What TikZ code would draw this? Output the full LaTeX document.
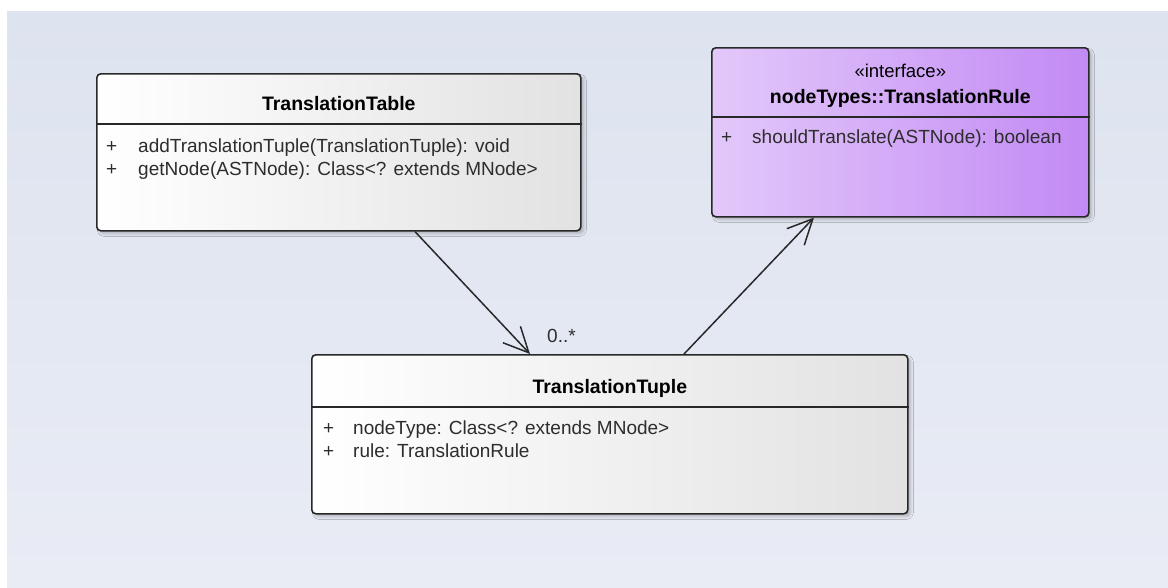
\documentclass[tikz,border=0pt]{standalone}
\usepackage{fontspec}
\setmainfont{Liberation Sans}
\usetikzlibrary{arrows.meta,shadows.blur,calc}

\definecolor{bgtop}{RGB}{221,227,239}
\definecolor{bgbot}{RGB}{233,236,245}
\definecolor{boxgray}{RGB}{226,226,226}
\definecolor{ruleleft}{RGB}{227,200,250}
\definecolor{ruleright}{RGB}{194,138,244}
\definecolor{edge}{RGB}{40,40,40}
\definecolor{membertext}{RGB}{45,45,45}

\begin{document}
\begin{tikzpicture}[x=1pt,y=-1pt,
  classbox/.style={draw=edge, line width=1.6pt, rounded corners=4pt, inner sep=0pt,
    anchor=north west,
    blur shadow={shadow xshift=3pt, shadow yshift=-3pt, shadow blur radius=2.5pt, shadow opacity=22}},
  plainclass/.style={classbox, left color=white, right color=boxgray},
  ifaceclass/.style={classbox, left color=ruleleft, right color=ruleright},
  classname/.style={font=\fontsize{19.5}{23}\selectfont\bfseries, anchor=base, inner sep=0pt},
  stereo/.style={font=\fontsize{18.5}{22}\selectfont, anchor=base, inner sep=0pt},
  member/.style={font=\fontsize{19}{23}\selectfont, text=membertext, anchor=base west, inner sep=0pt},
  divider/.style={draw=edge, line width=1.6pt},
  assoc/.style={draw=edge, line width=1.5pt,
    -{Straight Barb[length=25pt,width=24pt,line width=1.5pt]}},
]
% canvas and background
\useasboundingbox (0,0) rectangle (1168,587);
\fill[white] (0,0) rectangle (1168,587);
\shade[top color=bgtop, bottom color=bgbot] (7,11) rectangle (1168,587);

% class TranslationTable
\node[plainclass, minimum width=484pt, minimum height=157pt] (table) at (96,73) {};
\draw[divider] ([yshift=-51pt]table.north west) -- ([yshift=-51pt]table.north east);
\node[classname] (tablename) at ($(table.north)+(0,37)$) {TranslationTable};
\node[member] (tablep1) at ($(table.north west)+(10,79)$) {+};
\node[member] (tablem1) at ($(table.north west)+(42,79)$) {addTranslationTuple(TranslationTuple): void};
\node[member] (tablep2) at ($(table.north west)+(10,102)$) {+};
\node[member] (tablem2) at ($(table.north west)+(42,102)$) {getNode(ASTNode): Class<? extends MNode>};

% interface TranslationRule
\node[ifaceclass, minimum width=377pt, minimum height=169pt] (rule) at (711,47) {};
\draw[divider] ([yshift=-70pt]rule.north west) -- ([yshift=-70pt]rule.north east);
\node[stereo] (rulestereo) at ($(rule.north)+(0,30)$) {«interface»};
\node[classname] (rulename) at ($(rule.north)+(0,56)$) {nodeTypes::TranslationRule};
\node[member] (rulep1) at ($(rule.north west)+(10,96)$) {+};
\node[member] (rulem1) at ($(rule.north west)+(41,96)$) {shouldTranslate(ASTNode): boolean};

% class TranslationTuple
\node[plainclass, minimum width=596pt, minimum height=159pt] (tuple) at (311,354) {};
\draw[divider] ([yshift=-53pt]tuple.north west) -- ([yshift=-53pt]tuple.north east);
\node[classname] (tuplename) at ($(tuple.north)+(0,39)$) {TranslationTuple};
\node[member] (tuplep1) at ($(tuple.north west)+(12,80)$) {+};
\node[member] (tuplem1) at ($(tuple.north west)+(42,80)$) {nodeType: Class<? extends MNode>};
\node[member] (tuplep2) at ($(tuple.north west)+(12,103)$) {+};
\node[member] (tuplem2) at ($(tuple.north west)+(42,103)$) {rule: TranslationRule};

% associations
\draw[assoc] ([xshift=319pt]table.south west) -- ([xshift=219pt]tuple.north west);
\node[member] (mult) at ($(tuple.north west)+(236,-12)$) {0..*};
\draw[assoc] ([xshift=373pt]tuple.north west) -- ([xshift=103pt]rule.south west);
\end{tikzpicture}
\end{document}
